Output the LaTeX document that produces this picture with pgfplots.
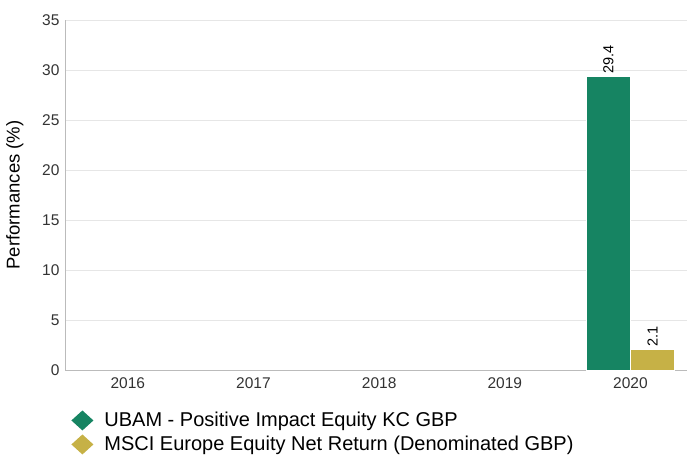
\documentclass[border=0pt]{standalone}
\usepackage{pgfplots}
\pgfplotsset{compat=1.18}
\usepackage{fontspec}
\setmainfont{Liberation Sans}
\definecolor{ubgreen}{HTML}{168462}
\definecolor{ubgold}{HTML}{C6B146}
\definecolor{gridc}{HTML}{E6E6E6}
\definecolor{axc}{HTML}{BBBBBB}
\definecolor{tickc}{HTML}{333333}
\begin{document}
\begin{tikzpicture}
\useasboundingbox (0,0) rectangle (687pt,455pt);
\begin{axis}[
  at={(65pt,85pt)}, anchor=south west,
  scale only axis, width=622pt, height=350pt,
  ybar=0pt, bar width=44pt,
  xmin=-0.5, xmax=4.45, ymin=0, ymax=35,
  xtick={0,1,2,3,4}, xticklabels={2016,2017,2018,2019,2020},
  ytick={0,5,...,35},
  axis x line*=bottom, axis y line*=left,
  axis line style={axc, line width=0.8pt},
  every outer x axis line/.append style={-}, every outer y axis line/.append style={-},
  major tick length=0pt,
  ymajorgrids, grid style={gridc, line width=0.7pt},
  tick label style={font=\fontsize{15.5}{16}\selectfont, text=tickc},
  xticklabel style={yshift=-4pt},
  yticklabel style={xshift=-2pt},
  /pgf/number format/assume math mode=true,
  ylabel={Performances (\%)},
  ylabel style={font=\fontsize{18.5}{20}\selectfont, at={(axis description cs:0,0.5)}, anchor=south, yshift=38pt},
  nodes near coords,
  nodes near coords style={font=\fontsize{14.5}{15}\selectfont, rotate=90, anchor=west, text=black, inner sep=2pt, /pgf/number format/.cd, fixed, precision=1, fixed zerofill},
  legend style={at={(axis description cs:0.01,-0.115)}, anchor=north west, draw=none, fill=none,
    font=\fontsize{20}{22}\selectfont, row sep=4pt, inner sep=0pt,
    /tikz/every odd column/.append style={column sep=9pt}},
  legend cell align=left,
  legend image code/.code={\fill[#1, draw=none] (0pt,0pt) -- (11pt,10pt) -- (22pt,0pt) -- (11pt,-10pt) -- cycle;},
  clip=false,
]
\addplot[fill=ubgreen, draw=white, line width=0.4pt] coordinates {(4,29.4)};
\addplot[fill=ubgold, draw=white, line width=0.4pt] coordinates {(4,2.1)};
\legend{UBAM - Positive Impact Equity KC GBP, MSCI Europe Equity Net Return (Denominated GBP)}
\end{axis}
\end{tikzpicture}
\end{document}
